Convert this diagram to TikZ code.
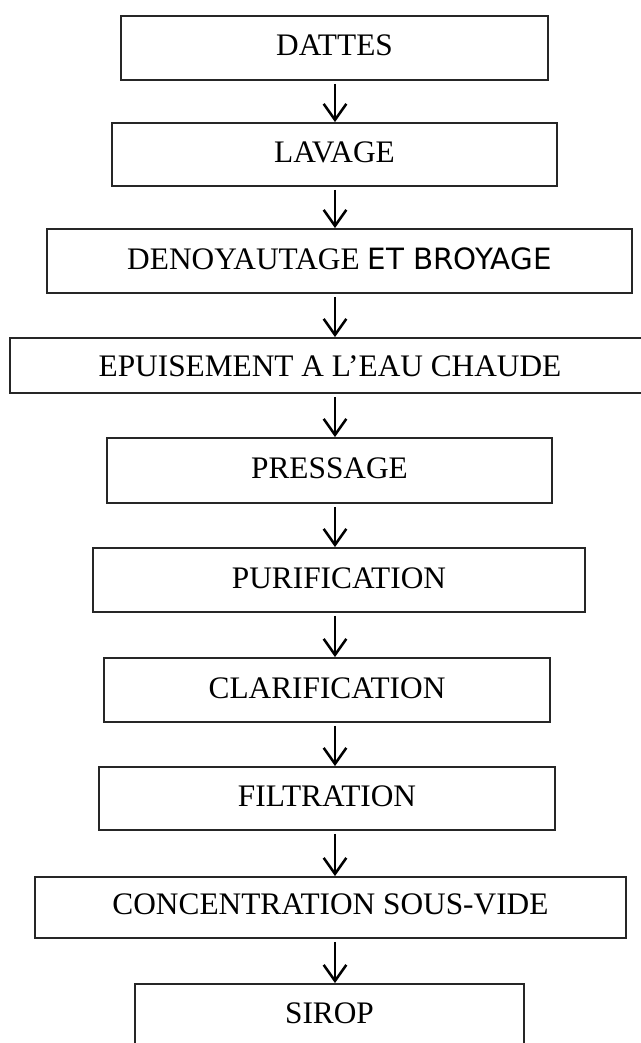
\documentclass[tikz,border=0pt]{standalone}
\usepackage{fontspec}
\setmainfont{Liberation Serif}
\newfontfamily\sansf{DejaVu Sans}
\usetikzlibrary{arrows.meta}

\tikzset{
  stage/.style={draw=black!85, line width=1.4pt, rectangle, inner sep=0pt,
    text depth=0pt, font=\fontsize{23.5pt}{28pt}\selectfont},
  flow/.style={line width=1.9pt, shorten <=2.2pt,
    -{Straight Barb[length=12pt, width=17pt, line join=miter]}}
}

\begin{document}
\begin{tikzpicture}[x=0.75pt, y=-0.75pt]
  \useasboundingbox (0,0) rectangle (641,1043);
  \fill[white] (0,0) rectangle (641,1043);
  \clip (0,0) rectangle (641,1043);

  % vertical line along which every arrow runs
  \coordinate (axis) at (335,0);

  \node[stage, minimum width=320.25pt, minimum height=48pt,    text height=11.25pt] (s1)  at (334.5,48)    {DATTES};
  \node[stage, minimum width=333.75pt, minimum height=47.25pt, text height=12pt]    (s2)  at (334.5,154.5) {LAVAGE};
  \node[stage, minimum width=438.75pt, minimum height=48pt,    text height=13pt]    (s3)  at (339.5,261)   {DENOYAUTAGE {\sansf\fontsize{22pt}{26pt}\selectfont ET BROYAGE}};
  \node[stage, minimum width=480pt,    minimum height=41.25pt, text height=16.5pt]  (s4)  at (330,365.5)   {EPUISEMENT A L’EAU CHAUDE};
  \node[stage, minimum width=333.75pt, minimum height=48.75pt, text height=12.5pt]  (s5)  at (329.5,470.5) {PRESSAGE};
  \node[stage, minimum width=369pt,    minimum height=48pt,    text height=12pt]    (s6)  at (339,580)     {PURIFICATION};
  \node[stage, minimum width=334.5pt,  minimum height=48pt,    text height=12pt]    (s7)  at (327,690)     {CLARIFICATION};
  \node[stage, minimum width=342pt,    minimum height=47.25pt, text height=11.85pt] (s8)  at (327,798.5)   {FILTRATION};
  \node[stage, minimum width=443.25pt, minimum height=45.75pt, text height=11pt]    (s9)  at (330.5,907.5) {CONCENTRATION SOUS-VIDE};
  \node[stage, minimum width=291.75pt, minimum height=48pt,    text height=10.5pt]  (s10) at (329.5,1016)  {SIROP};

  \foreach \a/\b in {s1/s2, s2/s3, s3/s4, s4/s5, s5/s6, s6/s7, s7/s8, s8/s9, s9/s10}
    \draw[flow] (\a.south -| axis) -- (\b.north -| axis);
\end{tikzpicture}
\end{document}
